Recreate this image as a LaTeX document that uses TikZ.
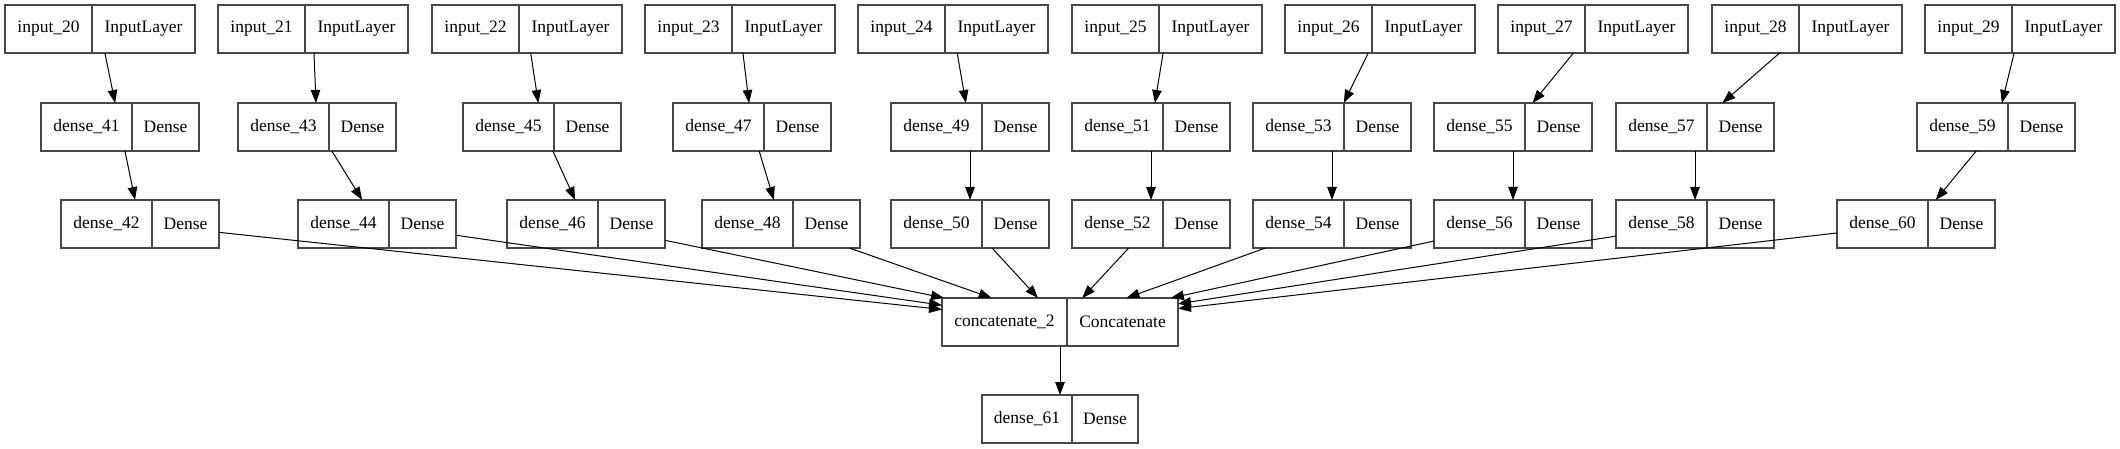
\documentclass[tikz,border=0pt]{standalone}
\usepackage{fontspec}
\setmainfont{Liberation Serif}
\usetikzlibrary{arrows.meta}
\tikzset{
  box/.style={draw=black!72, line width=1.2pt, inner sep=0pt, outer sep=0pt, fill=white},
  divline/.style={draw=black!72, line width=1.2pt},
  txt/.style={inner sep=0pt, font=\fontsize{17.5}{20}\selectfont, text=black},
  edge/.style={draw=black, line width=1pt, -{Triangle[length=13pt,width=9.5pt]}}
}
% name, x1, xdiv, x2, ytop, label, type
\newcommand\lay[7]{%
  \node[box, minimum width={(#4-#2)*1pt}, minimum height=48pt] (#1) at ({(#2+#4)/2},{#5+24}) {};
  \draw[divline] (#3,#5) -- (#3,#5+48);
  \node[txt] (#1l) at ({(#2+#3)/2},{#5+24}) {#6};
  \node[txt] (#1r) at ({(#3+#4)/2},{#5+24}) {#7};
}
\begin{document}
\begin{tikzpicture}[x=1pt,y=-1pt]
\useasboundingbox[fill=white] (0,0) rectangle (2120,449);
% inputs
\foreach \n/\l in {20/5,21/218,22/432,23/645,24/858,25/1072,26/1285,27/1498,28/1712,29/1925}{
  \pgfmathtruncatemacro\xd{\l+87}
  \pgfmathtruncatemacro\xr{\l+190}
  \lay{in\n}{\l}{\xd}{\xr}{5}{input\_\n}{InputLayer}
}
% dense row 2
\foreach \n/\l in {41/41,43/238,45/463,47/673,49/891,51/1072,53/1253,55/1434,57/1616,59/1917}{
  \pgfmathtruncatemacro\xd{\l+91}
  \pgfmathtruncatemacro\xr{\l+158}
  \lay{d\n}{\l}{\xd}{\xr}{103}{dense\_\n}{Dense}
}
% dense row 3
\foreach \n/\l in {42/61,44/298,46/507,48/702,50/891,52/1072,54/1253,56/1434,58/1616,60/1837}{
  \pgfmathtruncatemacro\xd{\l+91}
  \pgfmathtruncatemacro\xr{\l+158}
  \lay{d\n}{\l}{\xd}{\xr}{200}{dense\_\n}{Dense}
}
\lay{cat}{942}{1067}{1178}{298}{concatenate\_2}{Concatenate}
\lay{d61}{982}{1072}{1138}{395}{dense\_61}{Dense}
% edges
\foreach \i/\a/\b in {20/41/42,21/43/44,22/45/46,23/47/48,24/49/50,25/51/52,26/53/54,27/55/56,28/57/58,29/59/60}{
  \draw[edge] (in\i) -- (d\a);
  \draw[edge] (d\a) -- (d\b);
  \draw[edge] (d\b) -- (cat);
}
\draw[edge] (cat) -- (d61);
\end{tikzpicture}
\end{document}
